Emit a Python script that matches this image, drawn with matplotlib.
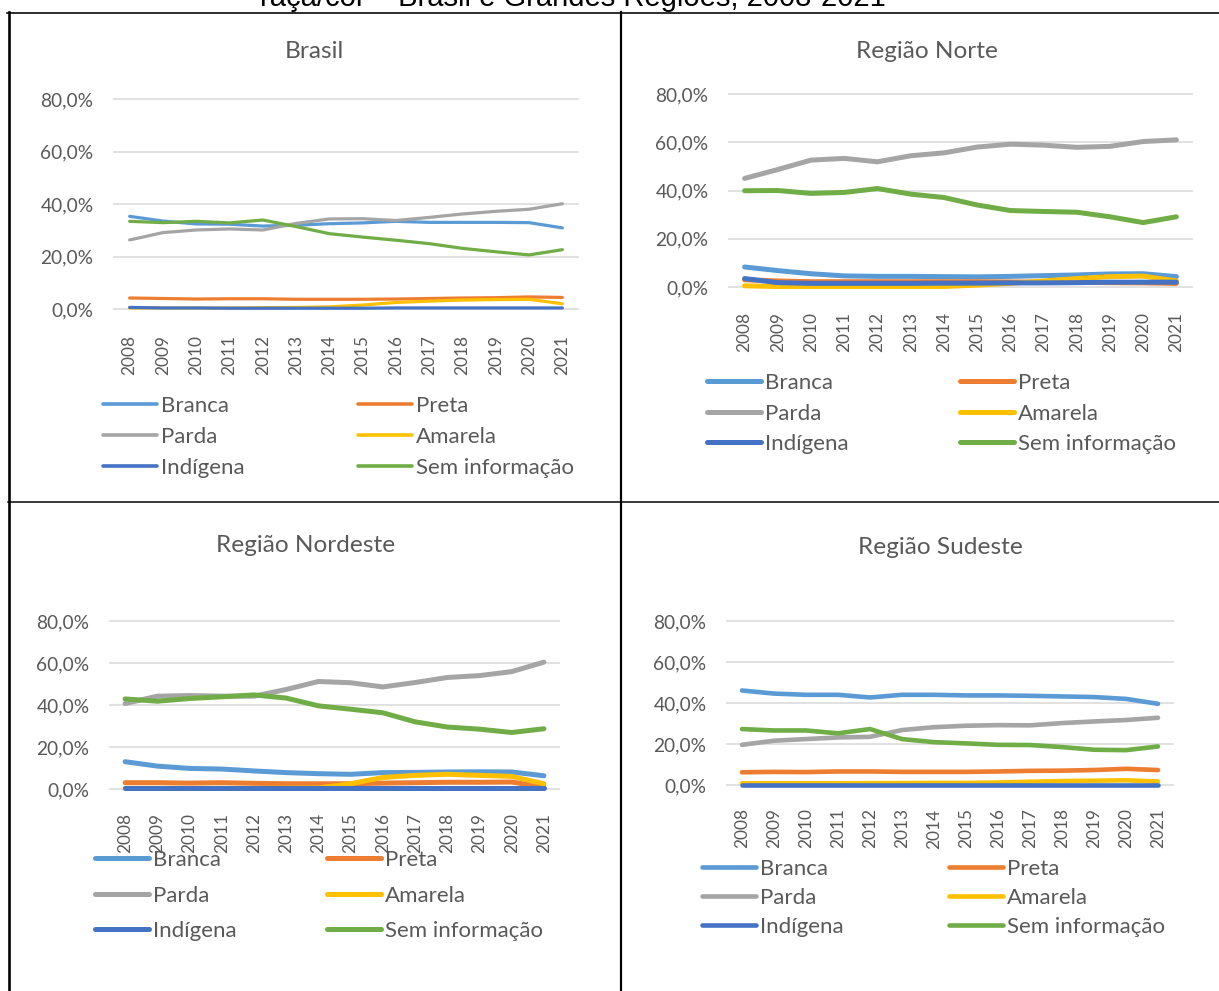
import matplotlib
matplotlib.use("Agg")
import matplotlib.pyplot as plt
from matplotlib.lines import Line2D

W, H = 1219, 991
plt.rcParams['font.family'] = ['Lato', 'DejaVu Sans']

years = [str(y) for y in range(2008, 2022)]
series_names = ["Branca", "Preta", "Parda", "Amarela", "Indígena", "Sem informação"]
colors = ["#5B9BD5", "#ED7D31", "#A5A5A5", "#FFC000", "#4472C4", "#70AD47"]
yticks = [0.0, 0.2, 0.4, 0.6, 0.8]

# ---- Brasil ----
brasil_branca = [35.3, 33.5, 32.4, 32.3, 31.6, 31.9, 32.5, 32.8, 33.4, 33.0, 33.0, 33.0, 32.9, 30.9]
brasil_preta = [4.2, 4.0, 3.8, 3.9, 3.9, 3.7, 3.7, 3.7, 3.8, 4.0, 4.2, 4.3, 4.6, 4.4]
brasil_parda = [26.3, 29.1, 30.1, 30.5, 30.1, 32.6, 34.3, 34.4, 33.7, 34.9, 36.2, 37.2, 38.0, 40.1]
brasil_amarela = [0.4, 0.4, 0.4, 0.4, 0.5, 0.6, 0.8, 1.5, 2.5, 3.0, 3.4, 3.6, 3.7, 2.0]
brasil_indigena = [0.6, 0.4, 0.4, 0.3, 0.3, 0.3, 0.3, 0.3, 0.4, 0.4, 0.4, 0.4, 0.4, 0.4]
brasil_seminfo = [33.4, 32.9, 33.4, 32.8, 33.9, 31.4, 28.7, 27.4, 26.2, 24.9, 23.1, 21.8, 20.6, 22.6]

# ---- Região Norte ----
norte_branca = [8.3, 6.8, 5.5, 4.6, 4.4, 4.4, 4.3, 4.2, 4.4, 4.7, 5.0, 5.4, 5.5, 4.3]
norte_preta = [3.0, 2.5, 2.2, 2.2, 2.2, 2.2, 2.2, 2.2, 2.1, 2.0, 1.9, 1.8, 1.7, 1.5]
norte_parda = [45.0, 48.7, 52.6, 53.3, 51.9, 54.4, 55.6, 58.0, 59.2, 58.8, 57.9, 58.3, 60.3, 61.0]
norte_amarela = [0.5, 0.2, 0.2, 0.2, 0.2, 0.2, 0.2, 0.8, 1.5, 2.5, 3.5, 4.3, 4.5, 2.5]
norte_indigena = [3.5, 1.8, 1.5, 1.5, 1.5, 1.5, 1.6, 1.6, 1.7, 1.7, 1.8, 2.0, 2.0, 2.0]
norte_seminfo = [39.9, 40.0, 38.8, 39.2, 40.8, 38.5, 37.1, 34.0, 31.7, 31.3, 31.0, 29.1, 26.7, 29.1]

# ---- Região Nordeste ----
nordeste_branca = [13.0, 10.9, 9.8, 9.5, 8.6, 7.8, 7.3, 7.0, 7.8, 7.9, 8.1, 8.2, 8.1, 6.3]
nordeste_preta = [3.0, 3.0, 2.8, 3.0, 2.7, 2.5, 2.5, 2.5, 2.8, 3.0, 3.2, 3.2, 3.3, 1.0]
nordeste_parda = [40.7, 44.2, 44.5, 44.2, 44.2, 47.4, 51.2, 50.6, 48.6, 50.7, 53.1, 54.0, 55.9, 60.4]
nordeste_amarela = [0.3, 0.3, 0.3, 0.3, 0.3, 0.4, 0.5, 2.5, 5.5, 6.5, 7.0, 6.5, 6.0, 2.5]
nordeste_indigena = [0.3, 0.3, 0.3, 0.3, 0.3, 0.3, 0.3, 0.3, 0.3, 0.3, 0.3, 0.3, 0.3, 0.3]
nordeste_seminfo = [42.9, 41.8, 43.1, 43.9, 44.8, 43.3, 39.6, 38.0, 36.3, 32.0, 29.5, 28.5, 26.9, 28.7]

# ---- Região Sudeste ----
sudeste_branca = [46.1, 44.6, 44.0, 44.0, 42.7, 44.0, 44.0, 43.7, 43.7, 43.5, 43.2, 42.9, 42.0, 39.6]
sudeste_preta = [6.2, 6.4, 6.3, 6.6, 6.6, 6.4, 6.4, 6.4, 6.6, 6.9, 7.0, 7.3, 7.9, 7.3]
sudeste_parda = [19.6, 21.6, 22.4, 23.2, 23.5, 26.8, 28.2, 28.9, 29.2, 29.1, 30.2, 31.0, 31.7, 32.8]
sudeste_amarela = [0.8, 0.8, 0.8, 0.8, 0.9, 0.9, 1.0, 1.0, 1.2, 1.6, 1.9, 2.1, 2.3, 1.7]
sudeste_indigena = [0.2, 0.2, 0.2, 0.2, 0.2, 0.2, 0.2, 0.2, 0.2, 0.2, 0.2, 0.2, 0.2, 0.2]
sudeste_seminfo = [27.3, 26.6, 26.6, 25.2, 27.3, 22.4, 20.9, 20.3, 19.6, 19.5, 18.5, 17.2, 17.0, 18.8]

panel_titles = ["Brasil", "Região Norte", "Região Nordeste", "Região Sudeste"]
panel_data = [
    [brasil_branca, brasil_preta, brasil_parda, brasil_amarela, brasil_indigena, brasil_seminfo],
    [norte_branca, norte_preta, norte_parda, norte_amarela, norte_indigena, norte_seminfo],
    [nordeste_branca, nordeste_preta, nordeste_parda, nordeste_amarela, nordeste_indigena, nordeste_seminfo],
    [sudeste_branca, sudeste_preta, sudeste_parda, sudeste_amarela, sudeste_indigena, sudeste_seminfo],
]

# layout (pixels)
layouts = [
    dict(x0=113, x1=579, y80=99, y0=309, tx=314, ty=51, lw=3.2, l1=103, l2=358, ly=406, ls=30.5),
    dict(x0=728, x1=1193, y80=94, y0=287, tx=927, ty=52, lw=5.0, l1=707, l2=960, ly=383, ls=30.0),
    dict(x0=109, x1=560, y80=621, y0=789, tx=306, ty=545, lw=5.0, l1=95, l2=327, ly=860, ls=35.0),
    dict(x0=726, x1=1174, y80=621, y0=785, tx=940, ty=547, lw=4.6, l1=702, l2=949, ly=869, ls=28.5),
]

TXT = "#595959"
fig = plt.figure(figsize=(W / 100, H / 100), dpi=100)

def fx(x):
    return x / W

def fy(y):
    return 1 - y / H

PX = 72 / 100  # points per pixel
m = 0.05
for title, data, L in zip(panel_titles, panel_data, layouts):
    ppu = (L['y0'] - L['y80']) / 0.8
    top = L['y80'] - m * ppu
    bot = L['y0'] + m * ppu
    ax = fig.add_axes([fx(L['x0']), fy(bot), (L['x1'] - L['x0']) / W, (bot - top) / H])
    ax.set_xlim(-0.5, 13.5)
    ax.set_ylim(-m, 0.8 + m)
    for s in ax.spines.values():
        s.set_visible(False)
    ax.set_yticks(yticks)
    ax.set_yticklabels([f"{v*100:.1f}".replace('.', ',') + '%' for v in yticks])
    ax.set_xticks(range(len(years)))
    ax.set_xticklabels(years, rotation=90)
    ax.tick_params(axis='y', length=0, pad=14, labelsize=13.8, labelcolor=TXT)
    ax.tick_params(axis='x', length=0, pad=9.5, labelsize=12.4, labelcolor=TXT)
    ax.yaxis.grid(True, color='#D9D9D9', linewidth=1.1)
    ax.set_axisbelow(True)
    for name, vals, c in zip(series_names, data, colors):
        ax.plot(range(len(years)), [v / 100 for v in vals], color=c, lw=L['lw'] * PX,
                solid_capstyle='round', solid_joinstyle='round', label=name, clip_on=False)
    fig.text(fx(L['tx']), fy(L['ty']), title, ha='center', va='center', fontsize=17.6, color=TXT)
    # legends: two columns as two legends
    handles = [Line2D([], [], color=c, lw=max(L['lw'], 3.6) * PX, solid_capstyle='round') for c in colors]
    fsz = 16
    fpx = fsz / PX
    th = 0.88 * fpx
    hl = 54 / fpx
    for col, xh in ((0, L['l1']), (1, L['l2'])):
        idx = [col, col + 2, col + 4]
        fig.legend([handles[i] for i in idx], [series_names[i] for i in idx],
                   loc='upper left',
                   bbox_to_anchor=(fx(xh), fy(L['ly'] - th / 2)),
                   frameon=False, fontsize=fsz, handlelength=hl, handletextpad=4 / fpx,
                   borderpad=0, borderaxespad=0,
                   labelspacing=(L['ls'] - th) / fpx,
                   labelcolor=TXT, handleheight=0.7)

# super title (partially cut at top)
fig.text(fx(573), fy(6.5), "raça/cor – Brasil e Grandes Regiões, 2008-2021", ha='center', va='baseline',
         fontsize=21, family=['Liberation Sans', 'DejaVu Sans'], color='black')

# table borders
def hline(y, x0, x1, lw):
    fig.add_artist(Line2D([fx(x0), fx(x1)], [fy(y), fy(y)], color='black', lw=lw * PX, transform=fig.transFigure))

def vline(x, y0, y1, lw):
    fig.add_artist(Line2D([fx(x), fx(x)], [fy(y0), fy(y1)], color='black', lw=lw * PX, transform=fig.transFigure))

hline(12.5, 7, 1219, 1.6)
hline(501.7, 8, 1219, 1.5)
vline(8.6, 12, 991, 2.6)
vline(620.8, 12, 991, 2.2)

fig.savefig("out.png", dpi=100)
